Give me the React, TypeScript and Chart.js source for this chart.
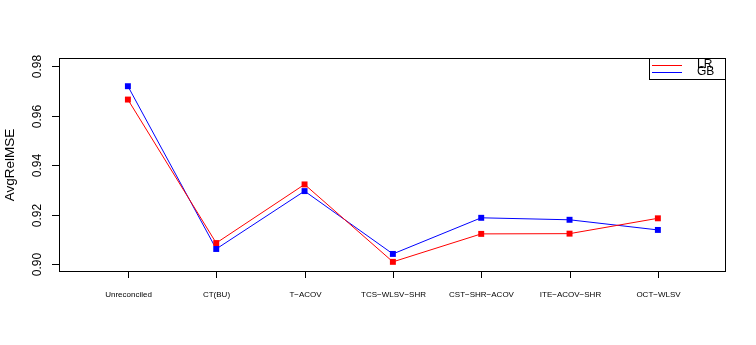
import React, { useEffect, useRef } from "react";
import { Chart, registerables } from "chart.js";

Chart.register(...registerables);

const categories = [
  "Unreconciled",
  "CT(BU)",
  "T\u2212ACOV",
  "TCS\u2212WLSV\u2212SHR",
  "CST\u2212SHR\u2212ACOV",
  "ITE\u2212ACOV\u2212SHR",
  "OCT\u2212WLSV",
];
const lrValues = [0.9665, 0.9085, 0.9322, 0.9009, 0.9122, 0.9123, 0.9185];
const gbValues = [0.9719, 0.9061, 0.9295, 0.9041, 0.9187, 0.9179, 0.9138];
const yTicks = [0.9, 0.92, 0.94, 0.96, 0.98];
const yTickLabels = ["0.90", "0.92", "0.94", "0.96", "0.98"];
const seriesNames = ["LR", "GB"];
const seriesColors = ["#FF0000", "#0000FF"];
const yTitle = "AvgRelMSE";

const FONT = "'Liberation Sans', Arial, Helvetica, sans-serif";

const axesPlugin = {
  id: "rAxes",
  afterDraw(chart: any) {
    const ctx = chart.ctx;
    const { left, right, top, bottom } = chart.chartArea;
    const xs = chart.scales.x;
    const ys = chart.scales.y;
    ctx.save();
    ctx.strokeStyle = "#000";
    ctx.lineWidth = 1;
    // box
    ctx.strokeRect(Math.round(left) + 0.5, Math.round(top) + 0.5, Math.round(right - left), Math.round(bottom - top));
    // y ticks
    ctx.fillStyle = "#000";
    yTicks.forEach((v, i) => {
      const y = Math.round(ys.getPixelForValue(v)) + 0.5;
      ctx.beginPath();
      ctx.moveTo(left, y);
      ctx.lineTo(left - 7, y);
      ctx.stroke();
      ctx.save();
      ctx.translate(38, y);
      ctx.rotate(-Math.PI / 2);
      ctx.font = `12px ${FONT}`;
      ctx.textAlign = "center";
      ctx.textBaseline = "middle";
      ctx.fillText(yTickLabels[i], 0, 0);
      ctx.restore();
    });
    // x ticks
    categories.forEach((c, i) => {
      const x = Math.round(xs.getPixelForValue(i)) + 0.5;
      ctx.beginPath();
      ctx.moveTo(x, bottom);
      ctx.lineTo(x, bottom + 7);
      ctx.stroke();
      ctx.font = `8px ${FONT}`;
      ctx.textAlign = "center";
      ctx.textBaseline = "middle";
      ctx.fillText(c, x, 295);
    });
    // y title
    ctx.save();
    ctx.translate(10, 165);
    ctx.rotate(-Math.PI / 2);
    ctx.font = `13.5px ${FONT}`;
    ctx.textAlign = "center";
    ctx.textBaseline = "middle";
    ctx.fillText(yTitle, 0, 0);
    ctx.restore();
    // legend
    const lx = 649.5, ly = top + 0.5, lw = right - 649, lh = 21;
    ctx.fillStyle = "#fff";
    ctx.fillRect(lx, ly, lw, lh);
    ctx.strokeRect(lx, ly, lw, lh);
    const rows = [65, 72];
    seriesNames.forEach((n, i) => {
      ctx.strokeStyle = seriesColors[i];
      ctx.beginPath();
      ctx.moveTo(652, rows[i] + 0.5);
      ctx.lineTo(682, rows[i] + 0.5);
      ctx.stroke();
      ctx.fillStyle = "#000";
      ctx.font = `12px ${FONT}`;
      ctx.textAlign = "left";
      ctx.textBaseline = "middle";
      ctx.fillText(n, 697, rows[i]);
    });
    ctx.restore();
  },
};

export default function App() {
  const ref = useRef<HTMLCanvasElement>(null);
  useEffect(() => {
    if (!ref.current) return;
    const mk = (vals: number[]) => vals.map((v, i) => ({ x: i, y: v }));
    const chart = new Chart(ref.current, {
      type: "line",
      data: {
        datasets: [
          {
            label: seriesNames[0],
            data: mk(lrValues),
            borderColor: seriesColors[0],
            backgroundColor: seriesColors[0],
            borderWidth: 1,
            pointStyle: "rect",
            pointRadius: 4.2,
            pointBorderWidth: 0,
            tension: 0,
          },
          {
            label: seriesNames[1],
            data: mk(gbValues),
            borderColor: seriesColors[1],
            backgroundColor: seriesColors[1],
            borderWidth: 1,
            pointStyle: "rect",
            pointRadius: 4.2,
            pointBorderWidth: 0,
            tension: 0,
          },
        ],
      },
      options: {
        responsive: false,
        animation: false,
        layout: { padding: { left: 59, right: 31, top: 58, bottom: 74 } },
        plugins: { legend: { display: false }, tooltip: { enabled: false } },
        scales: {
          x: { type: "linear", min: -0.78, max: 6.76, display: false },
          y: { type: "linear", min: 0.8972, max: 0.9833, display: false },
        },
      },
      plugins: [axesPlugin],
    });
    return () => chart.destroy();
  }, []);
  return (
    <div style={{ position: "fixed", left: 0, top: 0, width: 756, height: 345, background: "#fff" }}>
      <canvas ref={ref} width={756} height={345} />
    </div>
  );
}
